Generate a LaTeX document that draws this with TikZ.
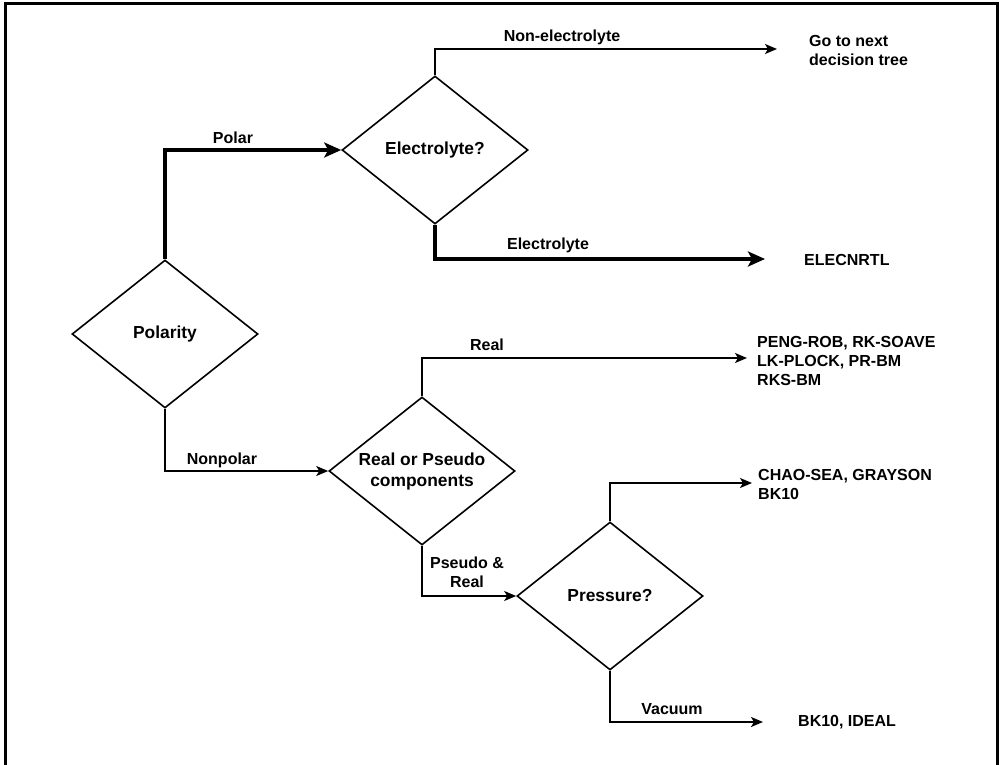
\documentclass[tikz,border=0pt]{standalone}
\usepackage{fontspec}
\setmainfont{Liberation Sans}
\usetikzlibrary{shapes.geometric,arrows.meta}

\begin{document}
\begin{tikzpicture}[x=1pt,y=-1pt,
  decision/.style={diamond, draw, line width=1.6pt, aspect=1.257,
    minimum width=186pt, minimum height=148pt, inner sep=0pt, align=center,
    font=\fontsize{17.4}{21}\selectfont\bfseries},
  flow/.style={line width=1.6pt, -{Stealth[length=12pt,width=10pt,inset=3pt]}},
  mainflow/.style={line width=4.5pt, -{Stealth[length=17pt,width=15pt,inset=4pt]}},
  lbl/.style={inner sep=0pt, font=\fontsize{16}{19}\selectfont\bfseries},
  result/.style={lbl, anchor=west, align=left}]

% page and frame (open at the bottom)
\useasboundingbox (0,0) rectangle (1001,765);
\draw[line width=3pt] (5,765) -- (5,4) -- (997,4) -- (997,765);

% decision diamonds
\node[decision] (polarity) at (165,334) {Polarity};
\node[decision] (elec) at (435,150) {Electrolyte?};
\node[decision] (realps) at (422,471) {Real or Pseudo\\components};
\node[decision] (press) at (610,596) {Pressure?};

% outcomes
\node[result] (next) at (809,50) {Go to next\\decision tree};
\node[result] (elecnrtl) at (804,260) {ELECNRTL};
\node[result] (eos) at (757,361) {PENG-ROB, RK-SOAVE\\LK-PLOCK, PR-BM\\RKS-BM};
\node[result] (chao) at (758,484) {CHAO-SEA, GRAYSON\\BK10};
\node[result] (ideal) at (798,722) {BK10, IDEAL};

% free arrow ends
\coordinate (nonelecEnd) at (777,49);
\coordinate (elecEnd) at (765,259);
\coordinate (realEnd) at (747,358);
\coordinate (hpEnd) at (752,483);
\coordinate (vacEnd) at (763,722);

% connectors
\draw[mainflow] (polarity.north) |- (elec.west);
\draw[flow] (elec.north) |- (nonelecEnd);
\draw[mainflow] (elec.south) |- (elecEnd);
\draw[flow] (polarity.south) |- (realps.west);
\draw[flow] (realps.north) |- (realEnd);
\draw[flow] (realps.south) |- (press.west);
\draw[flow] (press.north) |- (hpEnd);
\draw[flow] (press.south) |- (vacEnd);

% branch labels
\node[lbl] (lPolar) at (233,138) {Polar};
\node[lbl] (lNonel) at (562,37) {Non-electrolyte};
\node[lbl] (lElec) at (548,245) {Electrolyte};
\node[lbl] (lNonpolar) at (222,460) {Nonpolar};
\node[lbl] (lReal) at (487,345) {Real};
\node[lbl, align=center] (lPseudo) at (467,572) {Pseudo \&\\Real};
\node[lbl] (lVac) at (672,709) {Vacuum};
\end{tikzpicture}
\end{document}
